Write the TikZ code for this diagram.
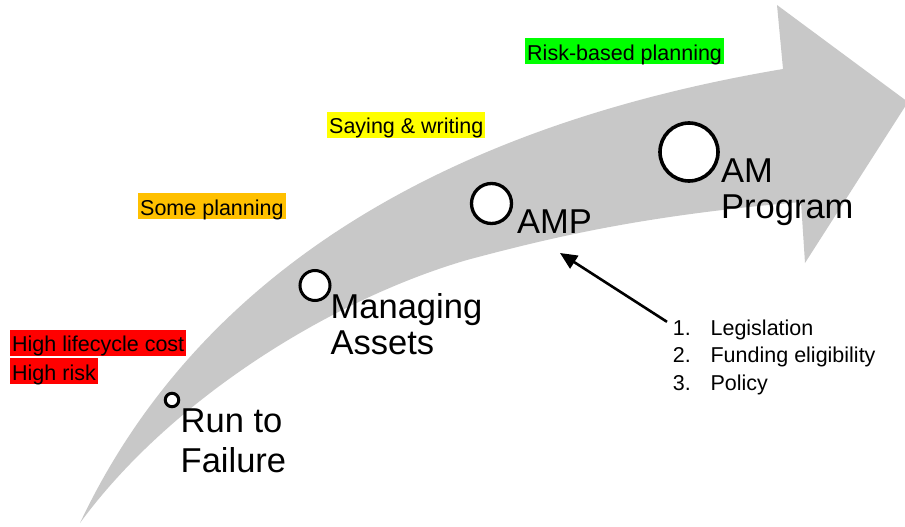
\documentclass[tikz,border=0pt]{standalone}
\usepackage{fontspec}
\setmainfont{Liberation Sans}
\usetikzlibrary{arrows.meta,calc}
\definecolor{arrowgray}{RGB}{200,200,200}
\definecolor{costred}{RGB}{255,0,0}
\definecolor{someorange}{RGB}{255,192,0}
\definecolor{sayyellow}{RGB}{255,255,0}
\definecolor{riskgreen}{RGB}{0,255,0}
\tikzset{
  tag/.style={anchor=west,inner xsep=2pt,inner ysep=1pt,text height=21pt,text depth=3pt,font=\fontsize{21.5}{25}\selectfont},
  stage/.style={circle,draw=black,fill=white,line width=3pt,inner sep=0pt},
  stagetext/.style={anchor=base west,inner sep=0pt,align=left},
}
\begin{document}
\begin{tikzpicture}[x=1pt,y=1pt,yscale=-1,xscale=1]
            \useasboundingbox (0,0) rectangle (905,527);

            %Shape: Curved Arrow
            \fill[arrowgray] (80,523) .. controls (190,290) and (420,130) .. (783,69) -- (777,5) -- (908,102) -- (805,263) -- (801,202) .. controls (650,215) and (560,235) .. (467,260) .. controls (330,300) and (170,400) .. (80,523) -- cycle;

            %Shape: Circle
            \node[stage,minimum size=13.5pt] (rtf) at (172,400) {};
            %Shape: Circle
            \node[stage,minimum size=30pt] (ma) at (315,285.5) {};
            %Shape: Circle
            \node[stage,minimum size=40pt,line width=3.3pt] (amp) at (491.5,203.5) {};
            %Shape: Circle
            \node[stage,minimum size=58pt,line width=3.6pt] (amprog) at (689,152) {};

            % Text Node (base = last line)
            \node[stagetext,font=\fontsize{34.5}{40}\selectfont] (rtftext) at (180.5,472) {Run to\\Failure};
            % Text Node
            \node[stagetext,font=\fontsize{34.5}{36}\selectfont] (matext) at (330.5,354) {Managing\\Assets};
            % Text Node
            \node[stagetext,font=\fontsize{34.5}{36}\selectfont] (amptext) at (517,233) {AMP};
            % Text Node
            \node[stagetext,font=\fontsize{34.5}{36}\selectfont] (amprogtext) at (721,218) {AM\\Program};

            % Text Node
            \node[tag,fill=riskgreen] (risk) at (525,51) {Risk-based planning};
            % Text Node
            \node[tag,fill=sayyellow] (saying) at (327,124.5) {Saying \& writing};
            % Text Node
            \node[tag,fill=someorange] (some) at (138,206) {Some planning};
            % Text Node
            \node[tag,fill=costred] (cost) at (10,342.5) {High lifecycle cost};
            % Text Node
            \node[tag,fill=costred] (highrisk) at (10,371) {High risk};

            % Text Node
            \node[stagetext,font=\fontsize{21.5}{27.5}\selectfont] (reasons) at (672.7,390) {\makebox[37.7pt][l]{1.}Legislation\\\makebox[37.7pt][l]{2.}Funding eligibility\\\makebox[37.7pt][l]{3.}Policy};

            %Shape: Arrow
            \coordinate (amphint) at (560,253);
            \draw[line width=2.6pt,-{Triangle[length=17pt,width=15pt]}] ($(reasons.north west)+(-5.7,2.6)$) -- (amphint);

\end{tikzpicture}
\end{document}
